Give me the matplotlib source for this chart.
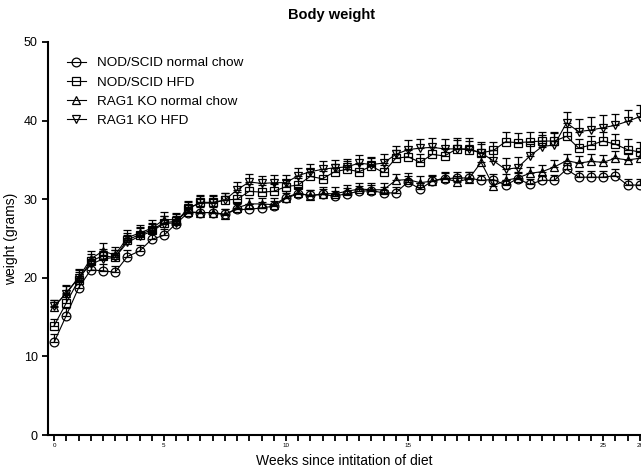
import matplotlib
matplotlib.use('Agg')
import matplotlib.pyplot as plt
import numpy as np

plt.rcParams['font.family'] = ['Liberation Sans', 'DejaVu Sans']

# Measurement points (one per tick), labelled by week
tick_labels = ['0', '5', '10', '15', '25', '26']
tick_label_pos = [0, 9, 19, 29, 45, 48]

nod_chow = [11.8, 15.2, 18.7, 21.0, 20.9, 20.7, 22.7, 23.4, 24.9, 25.4, 26.9,
            28.3, 28.3, 28.3, 28.1, 28.7, 28.7, 28.9, 29.1, 30.1, 30.7,
            30.5, 30.6, 30.4, 30.7, 31.0, 31.1, 30.8, 30.8, 32.2, 31.3, 32.3, 32.6,
            32.7, 32.7, 32.4, 32.5, 31.8, 32.6, 31.9, 32.4, 32.4, 33.8, 32.8, 32.8,
            32.8, 33.0, 31.8, 31.8]
nod_hfd = [13.9, 16.8, 19.7, 22.1, 22.8, 22.6, 24.8, 25.5, 26.1, 27.0, 27.2,
           28.8, 29.6, 29.6, 29.9, 30.0, 31.0, 30.9, 31.0, 31.6, 31.8,
           32.9, 32.6, 33.5, 33.8, 33.5, 34.2, 33.4, 35.2, 35.4, 34.7, 35.7, 35.5,
           36.4, 36.3, 35.9, 36.2, 37.3, 37.2, 37.3, 37.4, 37.4, 38.0, 36.5, 36.9,
           37.4, 37.0, 36.3, 36.0]
rag_chow = [16.3, 18.1, 20.0, 22.4, 23.4, 22.9, 25.1, 25.7, 26.3, 27.4, 27.4,
            28.4, 28.3, 28.3, 28.0, 28.9, 29.4, 29.4, 29.3, 30.2, 30.8,
            30.4, 30.7, 30.7, 31.0, 31.3, 31.2, 31.2, 32.4, 32.5, 32.1, 32.3, 32.7,
            32.2, 32.6, 34.7, 31.7, 32.4, 32.7, 33.3, 33.5, 34.1, 34.9, 34.6, 34.8,
            34.7, 35.2, 35.0, 35.2]
rag_hfd = [16.4, 18.0, 20.0, 21.7, 22.4, 22.6, 24.5, 25.3, 25.9, 26.9, 27.0,
           28.9, 29.5, 29.5, 29.9, 31.2, 32.2, 32.0, 32.1, 32.1, 33.0,
           33.5, 33.8, 34.0, 34.1, 34.6, 34.4, 34.6, 35.7, 36.3, 36.5, 36.6, 36.4,
           36.4, 36.4, 35.9, 34.9, 33.8, 34.0, 35.5, 36.7, 36.9, 39.7, 38.6, 38.8,
           39.1, 39.4, 39.9, 40.5]

# SEM (upper bars only, as drawn)
nod_chow_err = [1.0, 1.0, 0.9, 0.8, 0.8, 0.8, 0.8, 0.8, 0.8, 0.8, 0.8,
                0.7, 0.7, 0.7, 0.7, 0.7, 0.7, 0.7, 0.7, 0.7, 0.7,
                0.7, 0.7, 0.7, 0.7, 0.7, 0.7, 0.7, 0.7, 0.7, 0.7, 0.7, 0.7,
                0.7, 0.7, 0.7, 0.7, 0.7, 0.7, 0.7, 0.7, 0.7, 0.8, 0.8, 0.8,
                0.8, 0.8, 0.8, 0.8]
nod_hfd_err = [0.9, 1.0, 1.0, 0.9, 0.9, 0.9, 0.9, 0.9, 0.9, 0.9, 0.9,
               0.9, 0.9, 0.9, 0.9, 0.9, 0.9, 0.9, 0.9, 0.9, 0.9,
               0.9, 1.0, 1.0, 1.0, 1.0, 1.0, 1.0, 1.0, 1.0, 1.0, 1.0, 1.0,
               1.1, 1.1, 1.1, 1.1, 1.2, 1.2, 1.2, 1.2, 1.2, 1.2, 1.2, 1.2,
               1.2, 1.3, 1.3, 1.3]
rag_chow_err = [0.9, 1.0, 1.0, 1.0, 1.0, 1.0, 1.0, 1.0, 1.0, 1.0, 0.9,
                0.8, 0.8, 0.8, 0.8, 0.8, 0.8, 0.8, 0.8, 0.8, 0.8,
                0.8, 0.8, 0.8, 0.8, 0.8, 0.8, 0.8, 0.8, 0.8, 0.8, 0.8, 0.8,
                0.8, 0.8, 0.8, 0.8, 0.8, 0.8, 0.8, 0.8, 0.9, 0.9, 0.9, 0.9,
                0.9, 0.9, 0.9, 0.9]
rag_hfd_err = [0.8, 1.0, 1.1, 1.0, 1.0, 1.0, 1.0, 1.0, 1.0, 1.0, 0.9,
               0.9, 0.9, 0.9, 0.9, 1.0, 1.0, 1.0, 1.0, 1.0, 1.0,
               1.0, 1.0, 1.0, 1.0, 1.0, 1.0, 1.1, 1.1, 1.2, 1.2, 1.2, 1.2,
               1.4, 1.4, 1.4, 1.4, 1.4, 1.4, 1.5, 1.5, 1.5, 1.4, 1.6, 1.6,
               1.6, 1.5, 1.5, 1.5]

series = [
    ('NOD/SCID normal chow', nod_chow, nod_chow_err, 'o'),
    ('NOD/SCID HFD', nod_hfd, nod_hfd_err, 's'),
    ('RAG1 KO normal chow', rag_chow, rag_chow_err, '^'),
    ('RAG1 KO HFD', rag_hfd, rag_hfd_err, 'v'),
]

fig = plt.figure(figsize=(6.41, 4.71), dpi=100)
ax = fig.add_axes([48 / 641, 36 / 471, 593 / 641, 393 / 471])

handles = []
labels = []
for name, vals, err, mk in series:
    x = np.arange(len(vals))
    vals = np.array(vals)
    err = np.array(err)
    c = ax.errorbar(x, vals, yerr=[np.zeros_like(err), err], fmt='-', marker=mk,
                    color='black', mfc='none', mec='black', ms=6.3, mew=0.9,
                    lw=0.8, elinewidth=0.9, capsize=2.8, capthick=0.9)
    handles.append(c[0])
    labels.append(name)

ax.set_xlim(-0.5, -0.5 + 593 / 12.2)
ax.set_ylim(0, 50)
ax.set_yticks([0, 10, 20, 30, 40, 50])
ax.set_xticks(np.arange(0, 49))
ax.set_xticklabels([tick_labels[tick_label_pos.index(i)] if i in tick_label_pos else ''
                    for i in range(49)], fontsize=4.5)
ax.tick_params(axis='y', labelsize=9, length=4, width=1.3, direction='out')
ax.tick_params(axis='x', length=4, width=1.3, direction='out', pad=2)

ax.spines['top'].set_visible(False)
ax.spines['right'].set_visible(False)
ax.spines['left'].set_linewidth(1.5)
ax.spines['bottom'].set_linewidth(1.5)

ax.set_xlabel('Weeks since intitation of diet', fontsize=10, labelpad=4)
ax.set_ylabel('weight (grams)', fontsize=10, labelpad=4)
fig.text(331 / 641, 1 - 15 / 471, 'Body weight', fontsize=10.5, fontweight='bold',
         ha='center', va='center')

ax.legend(handles, labels, loc='upper left', frameon=False, fontsize=9.7,
          bbox_to_anchor=(67 / 641, 1 - 57 / 471), bbox_transform=fig.transFigure,
          borderaxespad=0, borderpad=0, handlelength=1.4, handletextpad=0.8,
          labelspacing=0.5)

fig.savefig('out.png', dpi=100)
